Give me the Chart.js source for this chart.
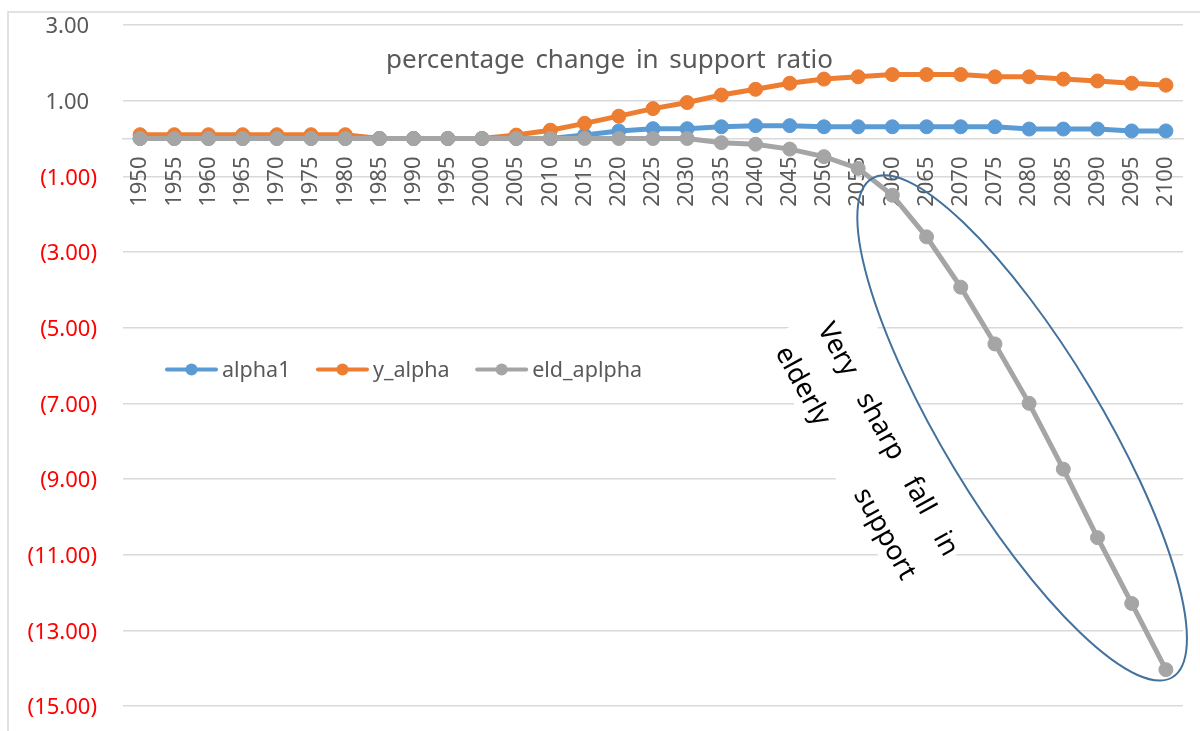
<!DOCTYPE html>
<html>
<head>
<meta charset="utf-8">
<title>percentage change in support ratio</title>
<script src="https://cdn.jsdelivr.net/npm/chart.js@4/dist/chart.umd.min.js"></script>
<style>
  html, body { margin: 0; padding: 0; background: #ffffff; }
  #wrap { width: 1200px; height: 731px; }
  canvas { display: block; }
</style>
</head>
<body>
<div id="wrap"><canvas id="chart" width="1200" height="731"></canvas></div>
<script>
// ---- data ----
const years = ['1950','1955','1960','1965','1970','1975','1980','1985','1990','1995','2000',
               '2005','2010','2015','2020','2025','2030','2035','2040','2045','2050',
               '2055','2060','2065','2070','2075','2080','2085','2090','2095','2100'];

const alpha1 = [0, 0, 0, 0, 0, 0, 0, 0, 0, 0, 0,
                0, 0, 0.09, 0.20, 0.26, 0.26, 0.31, 0.34, 0.34, 0.31,
                0.31, 0.31, 0.31, 0.31, 0.31, 0.25, 0.25, 0.25, 0.20, 0.20];

const yAlpha = [0.10, 0.10, 0.10, 0.10, 0.10, 0.10, 0.10, 0, 0, 0, 0,
                0.09, 0.22, 0.40, 0.59, 0.79, 0.95, 1.15, 1.30, 1.46, 1.57,
                1.63, 1.69, 1.69, 1.69, 1.63, 1.63, 1.57, 1.52, 1.46, 1.41];

const eldAlpha = [0, 0, 0, 0, 0, 0, 0, 0, 0, 0, 0,
                  0, 0, 0, 0, 0, 0, -0.11, -0.15, -0.28, -0.48,
                  -0.79, -1.50, -2.60, -3.93, -5.43, -7.00, -8.74, -10.55, -12.29, -14.04];

const seriesNames = ['alpha1', 'y_alpha', 'eld_aplpha'];
const seriesColors = ['#5B9BD5', '#ED7D31', '#A5A5A5'];
const seriesValues = [alpha1, yAlpha, eldAlpha];

const yMin = -15;
const yMax = 3;
const yStep = 2;

const chartTitle = 'percentage change in support ratio';
const noteLines = [['Very', 'sharp', 'fall', 'in'], ['elderly', 'support']];

// ---- drawing helpers ----
const FONT = "'Noto Sans', 'DejaVu Sans', sans-serif";
const GREY_TEXT = '#595959';

// spreads words evenly so the line fills the given width
function drawSpread(ctx, words, x, y, width) {
  const widths = words.map(w => ctx.measureText(w).width);
  const total = widths.reduce((s, w) => s + w, 0);
  const gap = words.length > 1 ? (width - total) / (words.length - 1) : 0;
  let cx = x;
  words.forEach((w, i) => { ctx.fillText(w, cx, y); cx += widths[i] + gap; });
}

// callout: ellipse around the late eld_aplpha points and a rotated note
const callout = {
  ellipseFrom: { x: 21.40, y: -1.06 },
  ellipseTo:   { x: 30.19, y: -14.24 },
  ellipseHalfWidth: 79,
  ellipseColor: '#41719C',
  noteAnchor: { x: 20.3, y: -4.78 },
  noteAngle: 61,
  noteWidth: 262,
  noteLineGap: 48.6,
  noteFontSize: 27
};

const titleBox = { x: 386, baseline: 68, width: 447, size: 26 };
const legendBox = { x: 166, y: 369.5, lineLen: 51, textGap: 5, itemGap: 26.5, size: 21.5 };

const decor = {
  id: 'decor',
  beforeDraw(chart) {
    const { ctx, width, height } = chart;
    ctx.save();
    ctx.fillStyle = '#ffffff';
    ctx.fillRect(0, 0, width, height);
    ctx.strokeStyle = '#D9D9D9';
    ctx.lineWidth = 1.5;
    ctx.strokeRect(8, 12, width + 20, height + 20);
    ctx.restore();
  },
  beforeDatasetsDraw(chart) {
    // white text box behind the note
    const { ctx } = chart;
    const xs = chart.scales.x, ys = chart.scales.y;
    const ox = xs.getPixelForValue(callout.noteAnchor.x);
    const oy = ys.getPixelForValue(callout.noteAnchor.y);
    ctx.save();
    ctx.translate(ox, oy);
    ctx.rotate(callout.noteAngle * Math.PI / 180);
    ctx.fillStyle = '#ffffff';
    ctx.fillRect(-15, -34, callout.noteWidth + 18, 110);
    ctx.restore();
  },
  afterDatasetsDraw(chart) {
    const { ctx } = chart;
    const xs = chart.scales.x, ys = chart.scales.y;

    // rotated note
    const ox = xs.getPixelForValue(callout.noteAnchor.x);
    const oy = ys.getPixelForValue(callout.noteAnchor.y);
    ctx.save();
    ctx.translate(ox, oy);
    ctx.rotate(callout.noteAngle * Math.PI / 180);
    ctx.font = callout.noteFontSize + 'px ' + FONT;
    ctx.fillStyle = '#000000';
    ctx.textBaseline = 'alphabetic';
    ctx.textAlign = 'left';
    const cap = callout.noteFontSize * 0.714;
    noteLines.forEach((words, i) => {
      drawSpread(ctx, words, 0, cap + i * callout.noteLineGap, callout.noteWidth);
    });
    ctx.restore();

    // ellipse
    const x1 = xs.getPixelForValue(callout.ellipseFrom.x), y1 = ys.getPixelForValue(callout.ellipseFrom.y);
    const x2 = xs.getPixelForValue(callout.ellipseTo.x), y2 = ys.getPixelForValue(callout.ellipseTo.y);
    const cx = (x1 + x2) / 2, cy = (y1 + y2) / 2;
    const a = Math.hypot(x2 - x1, y2 - y1) / 2;
    const ang = Math.atan2(y2 - y1, x2 - x1);
    ctx.save();
    ctx.beginPath();
    ctx.ellipse(cx, cy, a, callout.ellipseHalfWidth, ang, 0, Math.PI * 2);
    ctx.strokeStyle = callout.ellipseColor;
    ctx.lineWidth = 2;
    ctx.stroke();
    ctx.restore();
  },
  afterDraw(chart) {
    const { ctx } = chart;
    ctx.save();

    // title
    ctx.font = titleBox.size + 'px ' + FONT;
    ctx.fillStyle = GREY_TEXT;
    ctx.textBaseline = 'alphabetic';
    ctx.textAlign = 'left';
    drawSpread(ctx, chartTitle.split(' '), titleBox.x, titleBox.baseline, titleBox.width);

    // legend
    ctx.font = legendBox.size + 'px ' + FONT;
    ctx.textBaseline = 'middle';
    let lx = legendBox.x;
    const ly = legendBox.y;
    chart.data.datasets.forEach(ds => {
      ctx.strokeStyle = ds.borderColor;
      ctx.lineWidth = 4;
      ctx.lineCap = 'round';
      ctx.beginPath();
      ctx.moveTo(lx + 1, ly);
      ctx.lineTo(lx + legendBox.lineLen - 1, ly);
      ctx.stroke();
      ctx.fillStyle = ds.borderColor;
      ctx.beginPath();
      ctx.arc(lx + legendBox.lineLen / 2, ly, 6, 0, Math.PI * 2);
      ctx.fill();
      ctx.fillStyle = GREY_TEXT;
      const tx = lx + legendBox.lineLen + legendBox.textGap;
      ctx.fillText(ds.label, tx, ly + 1.5);
      lx = tx + ctx.measureText(ds.label).width + legendBox.itemGap;
    });
    ctx.restore();
  }
};

Chart.defaults.font.family = FONT;

new Chart(document.getElementById('chart'), {
  type: 'line',
  data: {
    labels: years,
    datasets: seriesNames.map((name, i) => ({
      label: name,
      data: seriesValues[i],
      borderColor: seriesColors[i],
      backgroundColor: seriesColors[i],
      pointBackgroundColor: seriesColors[i],
      pointBorderColor: seriesColors[i],
      borderWidth: 5,
      pointRadius: 7,
      pointBorderWidth: 1,
      tension: 0,
      fill: false,
      order: seriesNames.length - i
    }))
  },
  options: {
    responsive: false,
    animation: false,
    devicePixelRatio: 1,
    events: [],
    layout: { padding: { left: 0, top: 25, right: 17, bottom: 25 } },
    plugins: {
      legend: { display: false },
      title: { display: false },
      tooltip: { enabled: false }
    },
    scales: {
      x: {
        type: 'category',
        position: { y: 0 },
        offset: true,
        grid: { display: false, drawTicks: false },
        border: { display: true, color: '#D9D9D9', width: 1.5 },
        ticks: {
          autoSkip: false,
          maxRotation: 90,
          minRotation: 90,
          padding: 18,
          color: GREY_TEXT,
          font: { size: 22 }
        },
        afterFit(scale) {
          scale.height = 0;
          scale.paddingLeft = 0;
          scale.paddingRight = 0;
        }
      },
      y: {
        min: yMin,
        max: yMax,
        grid: { color: '#D9D9D9', lineWidth: 1.5, drawTicks: false },
        border: { display: false },
        ticks: {
          stepSize: yStep,
          padding: 26,
          labelOffset: 2,
          font: { size: 22 },
          color: c => (c.tick && c.tick.value < 0 ? '#FF0000' : GREY_TEXT),
          callback: v => (v < 0 ? '(' + Math.abs(v).toFixed(2) + ')' : v.toFixed(2) + ' \u200A')
        },
        afterFit(scale) {
          scale.width = 123;
          scale.paddingTop = 0;
          scale.paddingBottom = 0;
        }
      }
    }
  },
  plugins: [decor]
});
</script>
</body>
</html>
